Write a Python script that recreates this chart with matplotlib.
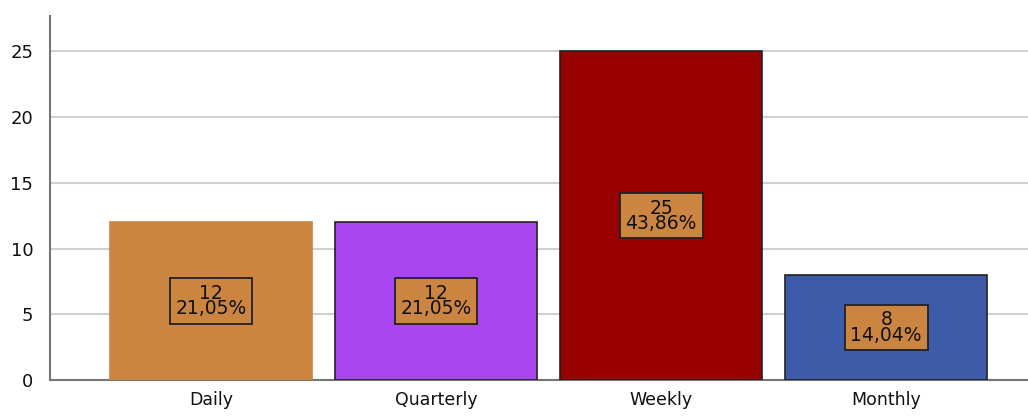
import matplotlib
matplotlib.use("Agg")
import matplotlib.pyplot as plt
import numpy as np

categories = ['Daily', 'Quarterly', 'Weekly', 'Monthly']
counts = [12, 12, 25, 8]
percents = ['21,05%', '21,05%', '43,86%', '14,04%']
colors = ['#CC8540', '#A846F0', '#990000', '#3E5BAA']
edges = ['#CC8540', '#222222', '#222222', '#222222']

fig = plt.figure(figsize=(10.28, 4.16), dpi=100)
ax = fig.add_axes([50/1028, 36/416, 1 - 50/1028, (380-16)/416])

x = np.arange(len(categories))
ax.bar(x, counts, 0.9, color=colors, edgecolor=edges, linewidth=1.2, zorder=3)

# labels in the middle of each bar
for xi, c, p in zip(x, counts, percents):
    ax.text(xi, c / 2, f'{c}\n{p}', ha='center', va='center', fontsize=13.5,
            linespacing=0.75, color='#111111', zorder=4,
            bbox=dict(boxstyle='square,pad=0.3', fc='#CC8540', ec='#222222', lw=1.3))

ax.set_xlim(-0.716, 3.63)
ax.set_ylim(0, 27.7)
ax.set_yticks([0, 5, 10, 15, 20, 25])
ax.set_xticks(x, labels=categories)
ax.yaxis.grid(True, color='#d0d0d0', linewidth=1.5, zorder=0)
ax.tick_params(length=0, colors='#111111')
ax.tick_params(axis='y', pad=12, labelsize=13)
ax.tick_params(axis='x', pad=8, labelsize=12.5)
for s in ['top', 'right']:
    ax.spines[s].set_visible(False)
for s in ['left', 'bottom']:
    ax.spines[s].set_color('#757575')
    ax.spines[s].set_linewidth(1.5)

plt.savefig('out.png', dpi=100)
